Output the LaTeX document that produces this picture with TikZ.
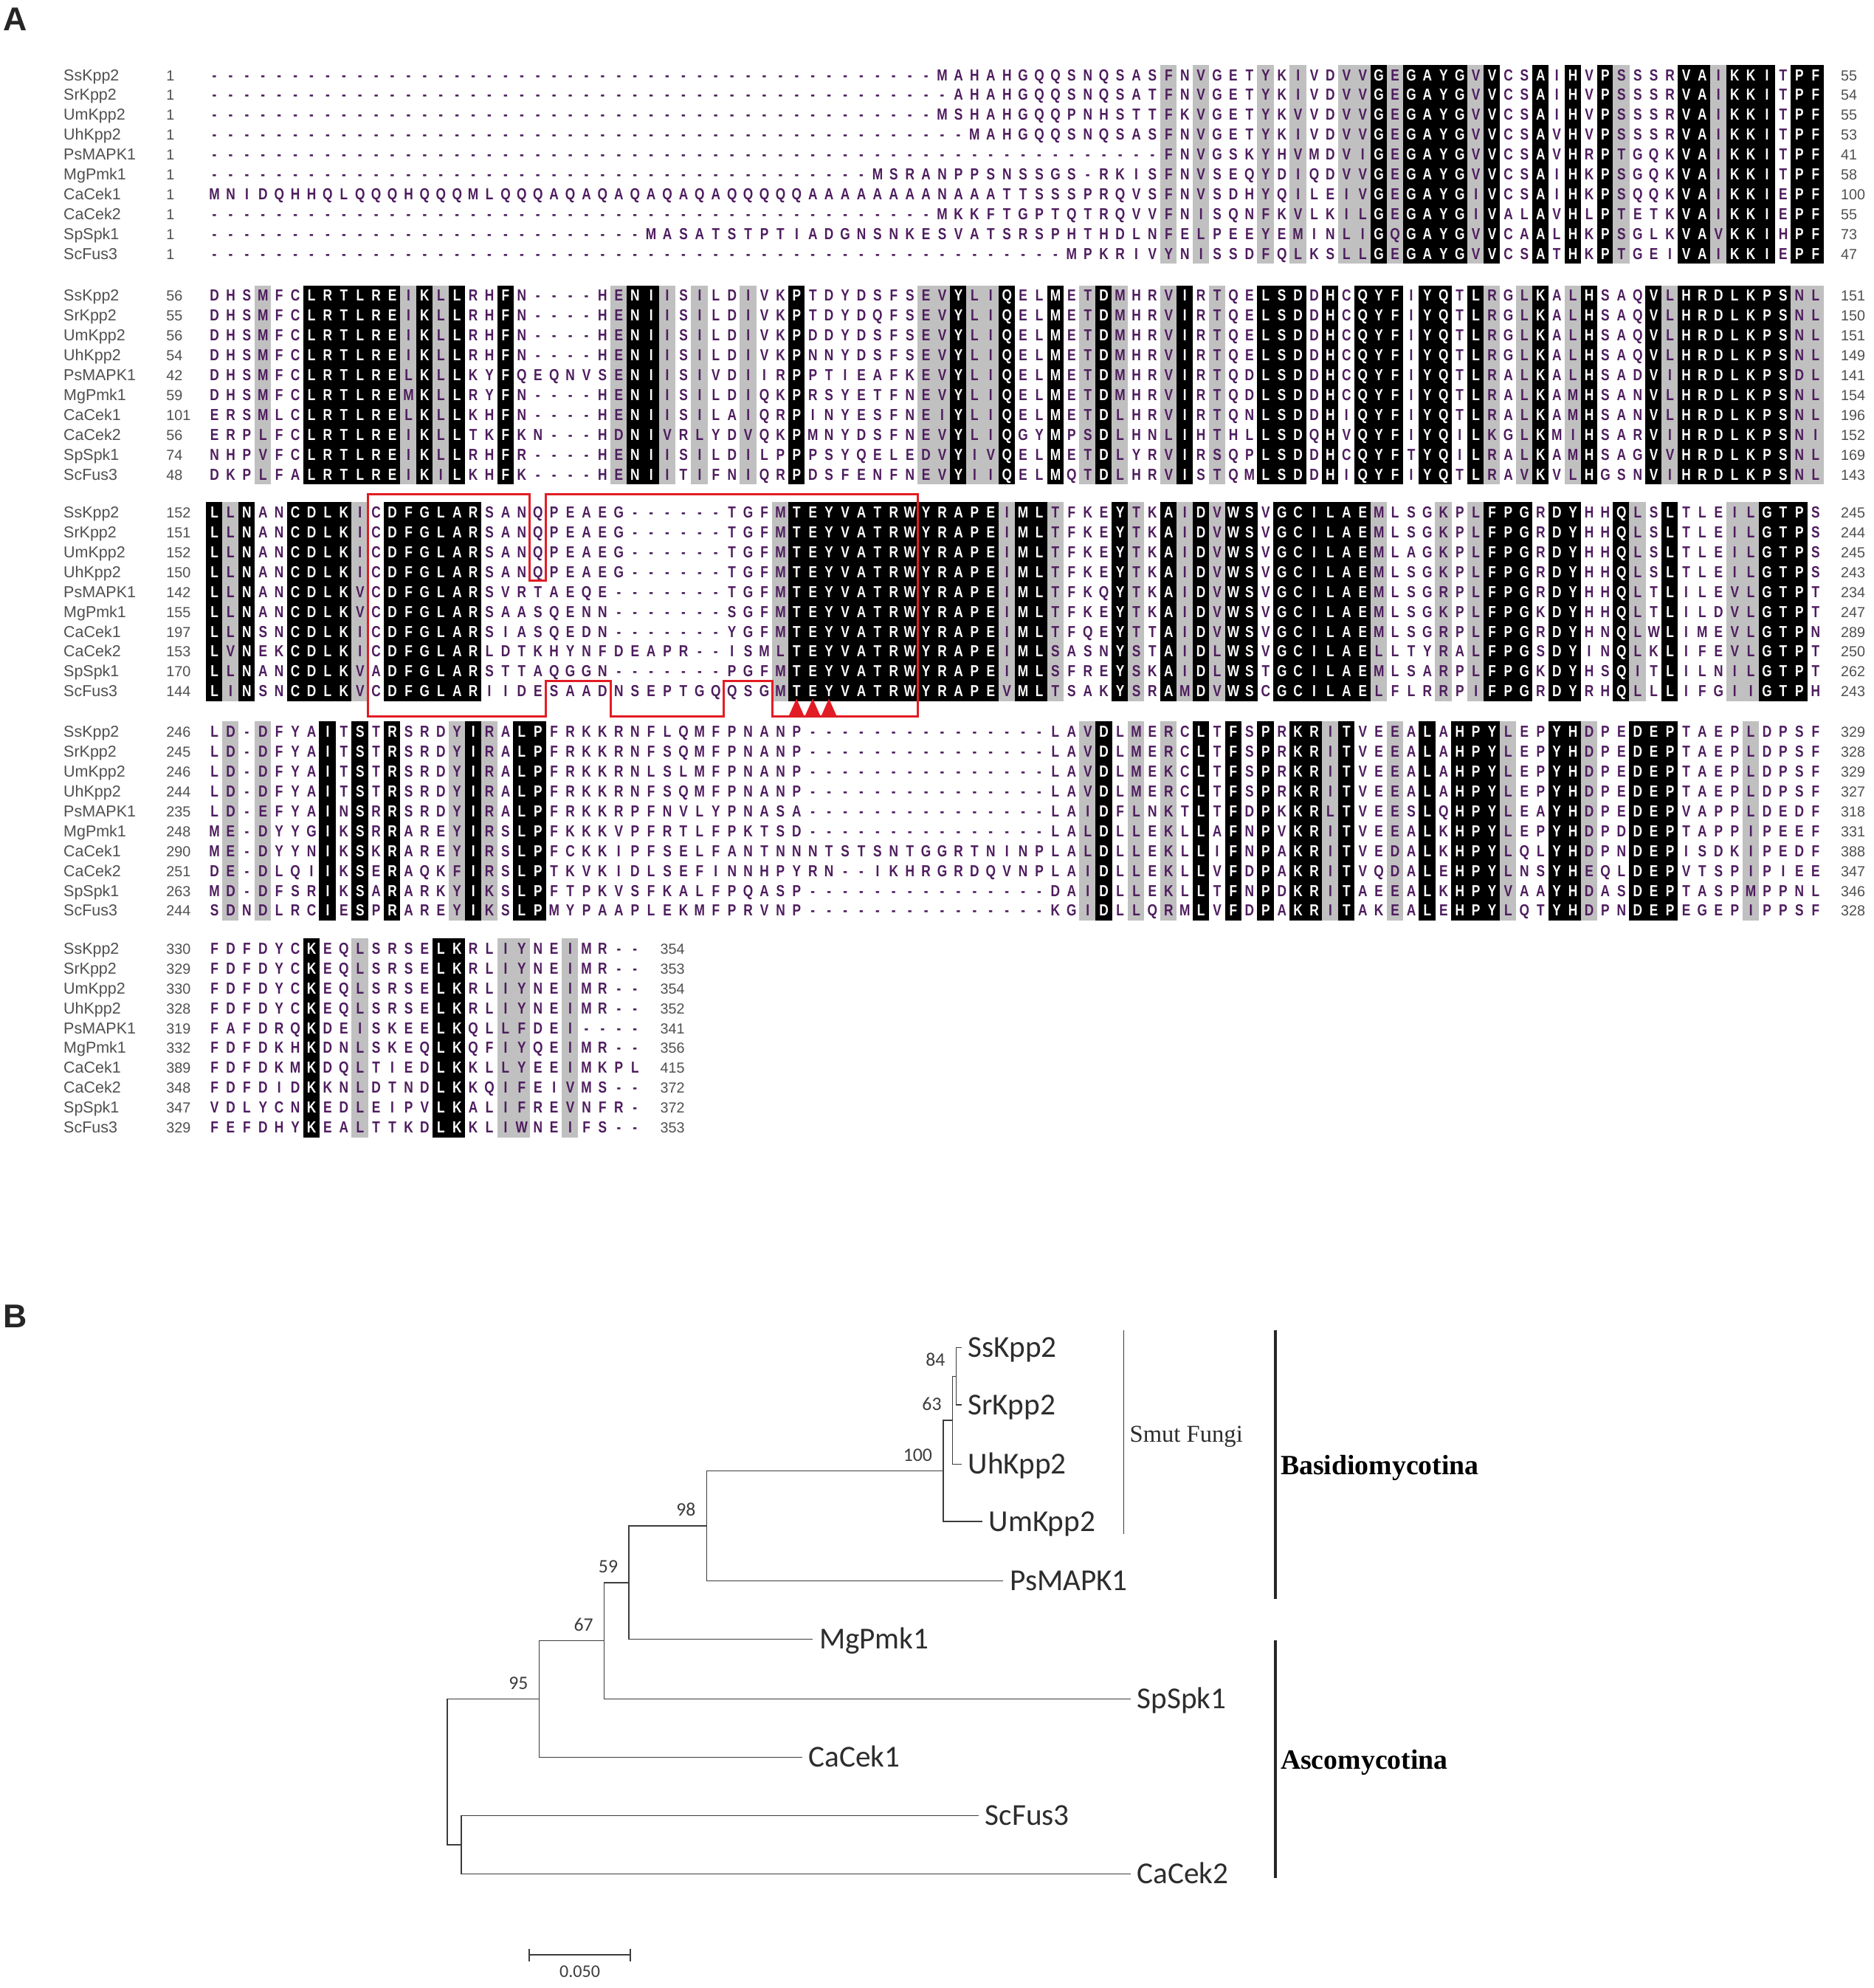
\documentclass[tikz,border=0pt]{standalone}
\usepackage{fontspec}
\setmainfont{Liberation Sans}
\newfontfamily\seqfont[FakeStretch=0.8]{Liberation Sans}
\newfontfamily\treefont{Carlito}
\newfontfamily\cladefont{Liberation Serif}
\definecolor{respurple}{RGB}{78,28,94}
\definecolor{lblgrey}{RGB}{80,80,80}
\definecolor{shgrey}{RGB}{192,192,192}
\definecolor{boxred}{RGB}{226,28,36}
\definecolor{treegrey}{RGB}{60,60,60}
\definecolor{tiptext}{RGB}{45,45,45}

\newcommand\alnchar[2]{\makebox[12.758pt]{\color{#1}#2}}
\newcommand\alnfill[3]{\fill[#3] (#1-6.5,#2-7.95) rectangle (#1+6.5,#2+7.95);}
\newcommand\alnseqrow[3]{\node[seqrow] at (#1,#2) {#3};}
\newcommand\alnlabel[5]{%
  \node[namelbl] at (50,#1) {#2};%
  \node[numlbl] at (131,#1) {#3};%
  \node[numlbl] at (#5,#1) {#4};}

\ExplSyntaxOn
\cs_generate_variant:Nn \tl_item:Nn { c }
\cs_generate_variant:Nn \tl_count:N { c }
\int_new:N \g_aln_nrow_int
\int_new:N \l_aln_ncol_int
\int_new:N \l_aln_col_int
\tl_new:N \l_aln_first_tl
\tl_new:N \l_aln_ch_tl
\tl_new:N \l_aln_chb_tl
\tl_new:N \l_aln_mode_tl
\tl_new:N \l_aln_row_tl
\bool_new:N \l_aln_same_bool
\bool_new:N \l_aln_sim_bool
\seq_new:N \l_aln_modes_seq
\fp_new:N \l_aln_y_fp
\fp_const:Nn \c_aln_xzero_fp { 169 }
\fp_const:Nn \c_aln_dx_fp { 12.758 }
\fp_const:Nn \c_aln_dy_fp { 15.67 }
\tl_const:Nn \c_aln_pairs_tl
  {
    ,IL,LI,IV,VI,IM,MI,LV,VL,LM,ML,VM,MV,
    FY,YF,FW,WF,YW,WY,
    DE,ED,DN,ND,EQ,QE,NQ,QN,
    KR,RK,ST,TS,
  }

\cs_new:Npn \alngap #1 { \prg_replicate:nn {#1} { - } }

\NewDocumentCommand \alnrow { m m m m }
  {
    \int_gincr:N \g_aln_nrow_int
    \tl_gset:cn { g_aln_name_ \int_use:N \g_aln_nrow_int _tl } {#1}
    \tl_gset:cn { g_aln_start_ \int_use:N \g_aln_nrow_int _tl } {#2}
    \tl_gset:cx { g_aln_seq_ \int_use:N \g_aln_nrow_int _tl } {#3}
    \tl_gset:cn { g_aln_end_ \int_use:N \g_aln_nrow_int _tl } {#4}
  }
\NewDocumentCommand \alnblock { m m }
  {
    \int_gzero:N \g_aln_nrow_int
    #2
    \aln_process:n {#1}
  }

\cs_new_protected:Npn \aln_cell:nn #1 #2
  {
    \str_if_eq:nnF {#1} { none }
      {
        \use:x
          {
            \exp_not:N \alnfill
              { \fp_eval:n { \c_aln_xzero_fp + ( \l_aln_col_int - 1 ) * \c_aln_dx_fp } }
              { \fp_eval:n { \l_aln_y_fp } }
              {#1}
          }
      }
    \tl_put_right:Nx \l_aln_row_tl { \exp_not:N \alnchar {#2} { \l_aln_ch_tl } }
  }

\cs_new_protected:Npn \aln_process:n #1
  {
    \int_set:Nn \l_aln_ncol_int { \tl_count:c { g_aln_seq_1_tl } }
    \seq_clear:N \l_aln_modes_seq
    \int_step_inline:nn { \l_aln_ncol_int }
      {
        \tl_set:Nx \l_aln_first_tl { \tl_item:cn { g_aln_seq_1_tl } {##1} }
        \bool_set_true:N \l_aln_same_bool
        \bool_set_true:N \l_aln_sim_bool
        \int_step_inline:nn { \g_aln_nrow_int }
          {
            \tl_set:Nx \l_aln_ch_tl { \tl_item:cn { g_aln_seq_####1_tl } {##1} }
            \str_if_eq:VVF \l_aln_ch_tl \l_aln_first_tl
              { \bool_set_false:N \l_aln_same_bool }
            \str_if_eq:VnT \l_aln_ch_tl { - }
              {
                \bool_set_false:N \l_aln_same_bool
                \bool_set_false:N \l_aln_sim_bool
              }
            \int_step_inline:nnn { ####1 + 1 } { \g_aln_nrow_int }
              {
                \tl_set:Nx \l_aln_chb_tl { \tl_item:cn { g_aln_seq_########1_tl } {##1} }
                \str_if_eq:VVF \l_aln_ch_tl \l_aln_chb_tl
                  {
                    \use:x
                      {
                        \exp_not:N \tl_if_in:NnF \exp_not:N \c_aln_pairs_tl
                          { , \l_aln_ch_tl \l_aln_chb_tl , }
                          { \exp_not:n { \bool_set_false:N \l_aln_sim_bool } }
                      }
                  }
              }
          }
        \tl_set:Nn \l_aln_mode_tl { n }
        \bool_if:NT \l_aln_sim_bool { \tl_set:Nn \l_aln_mode_tl { g } }
        \bool_if:NT \l_aln_same_bool { \tl_set:Nn \l_aln_mode_tl { k } }
        \seq_put_right:NV \l_aln_modes_seq \l_aln_mode_tl
      }
    \int_step_inline:nn { \g_aln_nrow_int }
      {
        \fp_set:Nn \l_aln_y_fp { #1 + ( ##1 - 1 ) * \c_aln_dy_fp }
        \tl_clear:N \l_aln_row_tl
        \int_step_inline:nn { \l_aln_ncol_int }
          {
            \int_set:Nn \l_aln_col_int {####1}
            \tl_set:Nx \l_aln_ch_tl { \tl_item:cn { g_aln_seq_##1_tl } {####1} }
            \tl_set:Nx \l_aln_mode_tl { \seq_item:Nn \l_aln_modes_seq {####1} }
            \str_if_eq:VnTF \l_aln_mode_tl { k }
              { \aln_cell:nn { black } { white } }
              {
                \str_if_eq:VnTF \l_aln_mode_tl { g }
                  { \aln_cell:nn { shgrey } { respurple } }
                  { \aln_cell:nn { none } { respurple } }
              }
          }
        \use:x
          {
            \exp_not:N \alnseqrow
              { 162.62 }
              { \fp_eval:n { \l_aln_y_fp + 4.5 } }
              { \exp_not:V \l_aln_row_tl }
            \exp_not:N \alnlabel
              { \fp_eval:n { \l_aln_y_fp + 4.5 } }
              { \tl_use:c { g_aln_name_##1_tl } }
              { \tl_use:c { g_aln_start_##1_tl } }
              { \tl_use:c { g_aln_end_##1_tl } }
              { \fp_eval:n { \c_aln_xzero_fp + ( \l_aln_ncol_int - 1 ) * \c_aln_dx_fp + 20 } }
          }
      }
  }
\ExplSyntaxOff

\begin{document}
\begin{tikzpicture}[x=1pt,y=-1pt,
  seqrow/.style={anchor=base west, inner sep=0pt, font=\seqfont\bfseries\fontsize{12.6}{12.6}\selectfont},
  namelbl/.style={anchor=base west, inner sep=0pt, text=lblgrey, font=\fontsize{12.5}{12.5}\selectfont},
  numlbl/.style={anchor=base west, inner sep=0pt, text=lblgrey, font=\fontsize{11.5}{11.5}\selectfont},
  panel/.style={inner sep=0pt, text=black!85, font=\bfseries\fontsize{26}{26}\selectfont},
  redbox/.style={draw=boxred, line width=1.7pt, line join=miter},
  treeline/.style={draw=treegrey, line width=0.9pt},
  tiplbl/.style={anchor=base west, inner sep=0pt, text=tiptext, font=\treefont\fontsize{24}{24}\selectfont},
  bootlbl/.style={anchor=base east, inner sep=0pt, text=treegrey, font=\treefont\fontsize{15}{15}\selectfont},
  smutlbl/.style={anchor=west, inner sep=0pt, text=tiptext, font=\cladefont\fontsize{19}{19}\selectfont},
  cladelbl/.style={anchor=west, inner sep=0pt, text=black, font=\cladefont\bfseries\fontsize{22}{22}\selectfont},
  smutbar/.style={draw=treegrey, line width=0.8pt},
  cladebar/.style={draw=black!85, line width=2pt},
  sbar/.style={draw=treegrey, line width=1.1pt},
  sblbl/.style={inner sep=0pt, text=treegrey, font=\treefont\fontsize{14}{14}\selectfont}]
\useasboundingbox (0,0) rectangle (1478,1568);
\fill[white] (0,0) rectangle (1478,1568);

\node[panel] (panelA) at (12,15) {A};
\node[panel] (panelB) at (12,1038) {B};

\alnblock{59}{%
\alnrow{SsKpp2}{1}{\alngap{45}MAHAHGQQSNQSASFNVGETYKIVDVVGEGAYGVVCSAIHVPSSSRVAIKKITPF}{55}
\alnrow{SrKpp2}{1}{\alngap{46}AHAHGQQSNQSATFNVGETYKIVDVVGEGAYGVVCSAIHVPSSSRVAIKKITPF}{54}
\alnrow{UmKpp2}{1}{\alngap{45}MSHAHGQQPNHSTTFKVGETYKVVDVVGEGAYGVVCSAIHVPSSSRVAIKKITPF}{55}
\alnrow{UhKpp2}{1}{\alngap{47}MAHGQQSNQSASFNVGETYKIVDVVGEGAYGVVCSAVHVPSSSRVAIKKITPF}{53}
\alnrow{PsMAPK1}{1}{\alngap{59}FNVGSKYHVMDVIGEGAYGVVCSAVHRPTGQKVAIKKITPF}{41}
\alnrow{MgPmk1}{1}{\alngap{41}MSRANPPSNSSGS-RKISFNVSEQYDIQDVVGEGAYGVVCSAIHKPSGQKVAIKKITPF}{58}
\alnrow{CaCek1}{1}{MNIDQHHQLQQQHQQQMLQQQAQAQAQAQAQAQQQQQAAAAAAAANAAATTSSSPRQVSFNVSDHYQILEIVGEGAYGIVCSAIHKPSQQKVAIKKIEPF}{100}
\alnrow{CaCek2}{1}{\alngap{45}MKKFTGPTQTRQVVFNISQNFKVLKILGEGAYGIVALAVHLPTETKVAIKKIEPF}{55}
\alnrow{SpSpk1}{1}{\alngap{27}MASATSTPTIADGNSNKESVATSRSPHTHDLNFELPEEYEMINLIGQGAYGVVCAALHKPSGLKVAVKKIHPF}{73}
\alnrow{ScFus3}{1}{\alngap{53}MPKRIVYNISSDFQLKSLLGEGAYGVVCSATHKPTGEIVAIKKIEPF}{47}
}

\alnblock{233}{%
\alnrow{SsKpp2}{56}{DHSMFCLRTLREIKLLRHFN----HENIISILDIVKPTDYDSFSEVYLIQELMETDMHRVIRTQELSDDHCQYFIYQTLRGLKALHSAQVLHRDLKPSNL}{151}
\alnrow{SrKpp2}{55}{DHSMFCLRTLREIKLLRHFN----HENIISILDIVKPTDYDQFSEVYLIQELMETDMHRVIRTQELSDDHCQYFIYQTLRGLKALHSAQVLHRDLKPSNL}{150}
\alnrow{UmKpp2}{56}{DHSMFCLRTLREIKLLRHFN----HENIISILDIVKPDDYDSFSEVYLIQELMETDMHRVIRTQELSDDHCQYFIYQTLRGLKALHSAQVLHRDLKPSNL}{151}
\alnrow{UhKpp2}{54}{DHSMFCLRTLREIKLLRHFN----HENIISILDIVKPNNYDSFSEVYLIQELMETDMHRVIRTQELSDDHCQYFIYQTLRGLKALHSAQVLHRDLKPSNL}{149}
\alnrow{PsMAPK1}{42}{DHSMFCLRTLRELKLLKYFQEQNVSENIISIVDIIRPPTIEAFKEVYLIQELMETDMHRVIRTQDLSDDHCQYFIYQTLRALKALHSADVIHRDLKPSDL}{141}
\alnrow{MgPmk1}{59}{DHSMFCLRTLREMKLLRYFN----HENIISILDIQKPRSYETFNEVYLIQELMETDMHRVIRTQDLSDDHCQYFIYQTLRALKAMHSANVLHRDLKPSNL}{154}
\alnrow{CaCek1}{101}{ERSMLCLRTLRELKLLKHFN----HENIISILAIQRPINYESFNEIYLIQELMETDLHRVIRTQNLSDDHIQYFIYQTLRALKAMHSANVLHRDLKPSNL}{196}
\alnrow{CaCek2}{56}{ERPLFCLRTLREIKLLTKFKN---HDNIVRLYDVQKPMNYDSFNEVYLIQGYMPSDLHNLIHTHLLSDQHVQYFIYQILKGLKMIHSARVIHRDLKPSNI}{152}
\alnrow{SpSpk1}{74}{NHPVFCLRTLREIKLLRHFR----HENIISILDILPPPSYQELEDVYIVQELMETDLYRVIRSQPLSDDHCQYFTYQILRALKAMHSAGVVHRDLKPSNL}{169}
\alnrow{ScFus3}{48}{DKPLFALRTLREIKILKHFK----HENIITIFNIQRPDSFENFNEVYIIQELMQTDLHRVISTQMLSDDHIQYFIYQTLRAVKVLHGSNVIHRDLKPSNL}{143}
}

\alnblock{404}{%
\alnrow{SsKpp2}{152}{LLNANCDLKICDFGLARSANQPEAEG------TGFMTEYVATRWYRAPEIMLTFKEYTKAIDVWSVGCILAEMLSGKPLFPGRDYHHQLSLTLEILGTPS}{245}
\alnrow{SrKpp2}{151}{LLNANCDLKICDFGLARSANQPEAEG------TGFMTEYVATRWYRAPEIMLTFKEYTKAIDVWSVGCILAEMLSGKPLFPGRDYHHQLSLTLEILGTPS}{244}
\alnrow{UmKpp2}{152}{LLNANCDLKICDFGLARSANQPEAEG------TGFMTEYVATRWYRAPEIMLTFKEYTKAIDVWSVGCILAEMLAGKPLFPGRDYHHQLSLTLEILGTPS}{245}
\alnrow{UhKpp2}{150}{LLNANCDLKICDFGLARSANQPEAEG------TGFMTEYVATRWYRAPEIMLTFKEYTKAIDVWSVGCILAEMLSGKPLFPGRDYHHQLSLTLEILGTPS}{243}
\alnrow{PsMAPK1}{142}{LLNANCDLKVCDFGLARSVRTAEQE-------TGFMTEYVATRWYRAPEIMLTFKQYTKAIDVWSVGCILAEMLSGRPLFPGRDYHHQLTLILEVLGTPT}{234}
\alnrow{MgPmk1}{155}{LLNANCDLKVCDFGLARSAASQENN-------SGFMTEYVATRWYRAPEIMLTFKEYTKAIDVWSVGCILAEMLSGKPLFPGKDYHHQLTLILDVLGTPT}{247}
\alnrow{CaCek1}{197}{LLNSNCDLKICDFGLARSIASQEDN-------YGFMTEYVATRWYRAPEIMLTFQEYTTAIDVWSVGCILAEMLSGRPLFPGRDYHNQLWLIMEVLGTPN}{289}
\alnrow{CaCek2}{153}{LVNEKCDLKICDFGLARLDTKHYNFDEAPR--ISMLTEYVATRWYRAPEIMLSASNYSTAIDLWSVGCILAELLTYRALFPGSDYINQLKLIFEVLGTPT}{250}
\alnrow{SpSpk1}{170}{LLNANCDLKVADFGLARSTTAQGGN-------PGFMTEYVATRWYRAPEIMLSFREYSKAIDLWSTGCILAEMLSARPLFPGKDYHSQITLILNILGTPT}{262}
\alnrow{ScFus3}{144}{LINSNCDLKVCDFGLARIIDESAADNSEPTGQQSGMTEYVATRWYRAPEVMLTSAKYSRAMDVWSCGCILAELFLRRPIFPGRDYRHQLLLIFGIIGTPH}{243}
}

\alnblock{577}{%
\alnrow{SsKpp2}{246}{LD-DFYAITSTRSRDYIRALPFRKKRNFLQMFPNANP\alngap{15}LAVDLMERCLTFSPRKRITVEEALAHPYLEPYHDPEDEPTAEPLDPSF}{329}
\alnrow{SrKpp2}{245}{LD-DFYAITSTRSRDYIRALPFRKKRNFSQMFPNANP\alngap{15}LAVDLMERCLTFSPRKRITVEEALAHPYLEPYHDPEDEPTAEPLDPSF}{328}
\alnrow{UmKpp2}{246}{LD-DFYAITSTRSRDYIRALPFRKKRNLSLMFPNANP\alngap{15}LAVDLMEKCLTFSPRKRITVEEALAHPYLEPYHDPEDEPTAEPLDPSF}{329}
\alnrow{UhKpp2}{244}{LD-DFYAITSTRSRDYIRALPFRKKRNFSQMFPNANP\alngap{15}LAVDLMERCLTFSPRKRITVEEALAHPYLEPYHDPEDEPTAEPLDPSF}{327}
\alnrow{PsMAPK1}{235}{LD-EFYAINSRRSRDYIRALPFRKKRPFNVLYPNASA\alngap{15}LAIDFLNKTLTFDPKKRLTVEESLQHPYLEAYHDPEDEPVAPPLDEDF}{318}
\alnrow{MgPmk1}{248}{ME-DYYGIKSRRAREYIRSLPFKKKVPFRTLFPKTSD\alngap{15}LALDLLEKLLAFNPVKRITVEEALKHPYLEPYHDPDDEPTAPPIPEEF}{331}
\alnrow{CaCek1}{290}{ME-DYYNIKSKRAREYIRSLPFCKKIPFSELFANTNNNTSTSNTGGRTNINPLALDLLEKLLIFNPAKRITVEDALKHPYLQLYHDPNDEPISDKIPEDF}{388}
\alnrow{CaCek2}{251}{DE-DLQIIKSERAQKFIRSLPTKVKIDLSEFINNHPYRN--IKHRGRDQVNPLAIDLLEKLLVFDPAKRITVQDALEHPYLNSYHEQLDEPVTSPIPIEE}{347}
\alnrow{SpSpk1}{263}{MD-DFSRIKSARARKYIKSLPFTPKVSFKALFPQASP\alngap{15}DAIDLLEKLLTFNPDKRITAEEALKHPYVAAYHDASDEPTASPMPPNL}{346}
\alnrow{ScFus3}{244}{SDNDLRCIESPRAREYIKSLPMYPAAPLEKMFPRVNP\alngap{15}KGIDLLQRMLVFDPAKRITAKEALEHPYLQTYHDPNDEPEGEPIPPSF}{328}
}

\alnblock{748}{%
\alnrow{SsKpp2}{330}{FDFDYCKEQLSRSELKRLIYNEIMR--}{354}
\alnrow{SrKpp2}{329}{FDFDYCKEQLSRSELKRLIYNEIMR--}{353}
\alnrow{UmKpp2}{330}{FDFDYCKEQLSRSELKRLIYNEIMR--}{354}
\alnrow{UhKpp2}{328}{FDFDYCKEQLSRSELKRLIYNEIMR--}{352}
\alnrow{PsMAPK1}{319}{FAFDRQKDEISKEELKQLLFDEI----}{341}
\alnrow{MgPmk1}{332}{FDFDKHKDNLSKEQLKQFIYQEIMR--}{356}
\alnrow{CaCek1}{389}{FDFDKMKDQLTIEDLKKLLYEEIMKPL}{415}
\alnrow{CaCek2}{348}{FDFDIDKKNLDTNDLKKQIFEIVMS--}{372}
\alnrow{SpSpk1}{347}{VDLYCNKEDLEIPVLKALIFREVNFR-}{372}
\alnrow{ScFus3}{329}{FEFDHYKEALTTKDLKKLIWNEIFS--}{353}
}

% red outline around the activation loop
\draw[redbox] (290.2,390) -- (417.8,390) -- (417.8,458) -- (430.5,458) -- (430.5,390)
  -- (724.0,390) -- (724.0,565) -- (609.2,565) -- (609.2,537) -- (570.9,537) -- (570.9,565)
  -- (481.6,565) -- (481.6,537) -- (430.5,537) -- (430.5,565) -- (290.2,565) -- cycle;
\fill[boxred] (622.1,565) -- (628.3,551) -- (634.5,565) -- cycle;
\fill[boxred] (634.9,565) -- (641.1,551) -- (647.3,565) -- cycle;
\fill[boxred] (647.7,565) -- (653.9,551) -- (660.1,565) -- cycle;

% ---------------- tree ----------------
\coordinate (n84) at (754.2,1085.5);
\coordinate (n63) at (751.4,1120.2);
\coordinate (n100) at (744.1,1160.1);
\coordinate (n98) at (557.4,1203.6);
\coordinate (n59) at (496.1,1248.3);
\coordinate (n67) at (476.6,1294.1);
\coordinate (n95) at (425.3,1340.1);
\coordinate (nSC) at (364.0,1455.0);
\coordinate (root) at (352.9,1397.5);
\coordinate (tSs) at (758.5,1063);
\coordinate (tSr) at (758.5,1108);
\coordinate (tUh) at (758.5,1155);
\coordinate (tUm) at (774.8,1200);
\coordinate (tPs) at (791.5,1247);
\coordinate (tMg) at (641.1,1293);
\coordinate (tSp) at (891.8,1340);
\coordinate (tCa1) at (632.7,1386);
\coordinate (tSc) at (772.0,1432);
\coordinate (tCa2) at (891.8,1478);

\draw[treeline] (n84) |- (tSs);
\draw[treeline] (n84) |- (tSr);
\draw[treeline] (n63) |- (n84);
\draw[treeline] (n63) |- (tUh);
\draw[treeline] (n100) |- (n63);
\draw[treeline] (n100) |- (tUm);
\draw[treeline] (n98) |- (n100);
\draw[treeline] (n98) |- (tPs);
\draw[treeline] (n59) |- (n98);
\draw[treeline] (n59) |- (tMg);
\draw[treeline] (n67) |- (n59);
\draw[treeline] (n67) |- (tSp);
\draw[treeline] (n95) |- (n67);
\draw[treeline] (n95) |- (tCa1);
\draw[treeline] (root) |- (n95);
\draw[treeline] (root) |- (nSC);
\draw[treeline] (nSC) |- (tSc);
\draw[treeline] (nSC) |- (tCa2);

\node[tiplbl] (lSs) at ([shift={(5,7.7)}]tSs) {SsKpp2};
\node[tiplbl] (lSr) at ([shift={(5,7.7)}]tSr) {SrKpp2};
\node[tiplbl] (lUh) at ([shift={(5,7.7)}]tUh) {UhKpp2};
\node[tiplbl] (lUm) at ([shift={(5,7.7)}]tUm) {UmKpp2};
\node[tiplbl] (lPs) at ([shift={(5,7.7)}]tPs) {PsMAPK1};
\node[tiplbl] (lMg) at ([shift={(5,7.7)}]tMg) {MgPmk1};
\node[tiplbl] (lSp) at ([shift={(5,7.7)}]tSp) {SpSpk1};
\node[tiplbl] (lCa1) at ([shift={(5,7.7)}]tCa1) {CaCek1};
\node[tiplbl] (lSc) at ([shift={(5,7.7)}]tSc) {ScFus3};
\node[tiplbl] (lCa2) at ([shift={(5,7.7)}]tCa2) {CaCek2};

\node[bootlbl] (b84) at ([shift={(-8.5,-7.8)}]n84) {84};
\node[bootlbl] (b63) at ([shift={(-8.5,-7.8)}]n63) {63};
\node[bootlbl] (b100) at ([shift={(-8.5,-7.8)}]n100) {100};
\node[bootlbl] (b98) at ([shift={(-8.5,-7.8)}]n98) {98};
\node[bootlbl] (b59) at ([shift={(-8.5,-7.8)}]n59) {59};
\node[bootlbl] (b67) at ([shift={(-8.5,-7.8)}]n67) {67};
\node[bootlbl] (b95) at ([shift={(-8.5,-7.8)}]n95) {95};

\coordinate (smTop) at (886.3,1049);
\coordinate (smBot) at (886.3,1210);
\draw[smutbar] (smTop) -- (smBot);
\node[smutlbl] (smut) at (891,1133) {Smut Fungi};

\coordinate (baTop) at (1006,1049);
\coordinate (baBot) at (1006,1261);
\coordinate (asTop) at (1006,1294);
\coordinate (asBot) at (1006,1481);
\draw[cladebar] (baTop) -- (baBot);
\draw[cladebar] (asTop) -- (asBot);
\node[cladelbl] (basid) at (1010,1158) {Basidiomycotina};
\node[cladelbl] (ascom) at (1010,1390) {Ascomycotina};

\coordinate (sb1) at (417.4,1542);
\coordinate (sb2) at (497.4,1542);
\draw[sbar] (sb1) -- (sb2);
\draw[sbar] ([yshift=-5pt]sb1) -- ([yshift=5pt]sb1);
\draw[sbar] ([yshift=-5pt]sb2) -- ([yshift=5pt]sb2);
\node[sblbl] (sbl) at (457.4,1555) {0.050};
\end{tikzpicture}
\end{document}
